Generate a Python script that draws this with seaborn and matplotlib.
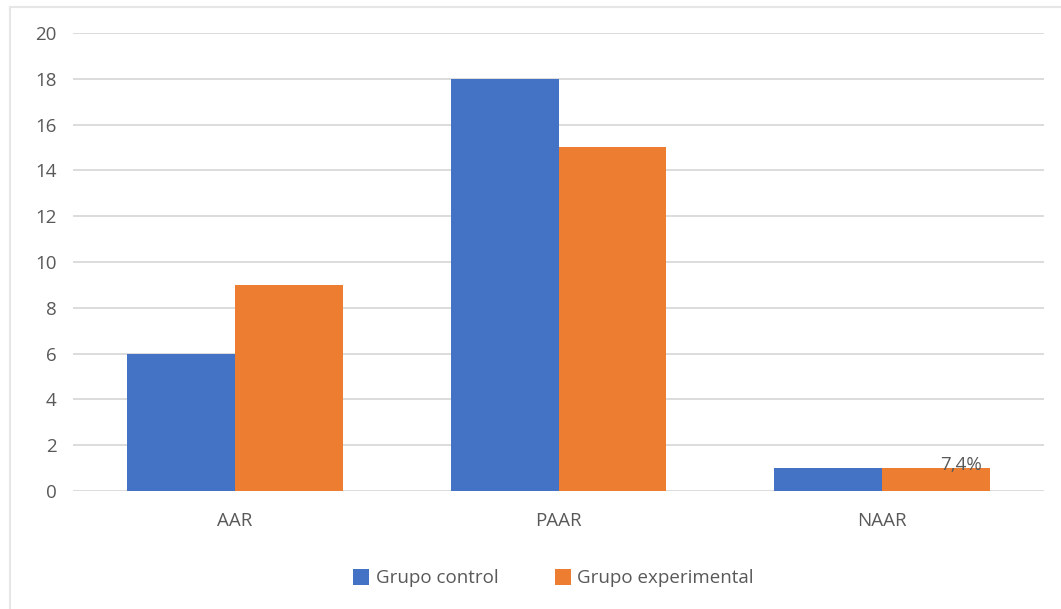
import matplotlib
matplotlib.use("Agg")
import matplotlib.pyplot as plt
import seaborn as sns
import pandas as pd
from matplotlib.lines import Line2D

categories = ["AAR", "PAAR", "NAAR"]
grupo_control = [6, 18, 1]
grupo_experimental = [9, 15, 1]
series_names = ["Grupo control", "Grupo experimental"]
colors = ["#4472C4", "#ED7D31"]
y_ticks = [0, 2, 4, 6, 8, 10, 12, 14, 16, 18, 20]
annotation_text = "7,4%"

df = pd.DataFrame({
    "categoria": categories * 2,
    "valor": grupo_control + grupo_experimental,
    "grupo": [series_names[0]] * len(categories) + [series_names[1]] * len(categories),
})

sns.set_theme(style="white")
plt.rcParams["font.family"] = ["Open Sans", "DejaVu Sans"]

text_color = "#595959"
grid_color = "#D9D9D9"
fs = 13.5

fig = plt.figure(figsize=(10.61, 6.09), dpi=100)
ax = fig.add_axes([0.0688, 0.1938, 0.9152, 0.752])

sns.barplot(data=df, x="categoria", y="valor", hue="grupo", palette=colors,
            width=0.667, gap=0, saturation=1, linewidth=0, edgecolor="none",
            ax=ax, zorder=3, legend=True)

ax.set_ylim(0, 20)
ax.set_yticks(y_ticks)
ax.set_xlim(-0.5, len(categories) - 0.5)
ax.yaxis.grid(True, color=grid_color, linewidth=1.3, zorder=0)
ax.set_axisbelow(True)
for s in ax.spines.values():
    s.set_visible(False)
ax.set_xlabel("")
ax.set_ylabel("")
ax.tick_params(axis="y", length=0, pad=12, labelsize=fs, labelcolor=text_color)
ax.tick_params(axis="x", length=0, pad=15, labelsize=fs, labelcolor=text_color)

# Value label over the last experimental bar
exp_bar = ax.containers[1][2]
ax.annotate(annotation_text,
            xy=(exp_bar.get_x() + exp_bar.get_width() / 2, exp_bar.get_height()),
            xytext=(18, -4), textcoords="offset points",
            ha="center", va="bottom", fontsize=fs, color=text_color, zorder=5)

leg = ax.legend(loc="center", bbox_to_anchor=(0.495, -0.19), ncol=2, frameon=False,
                fontsize=fs, handlelength=0.85, handleheight=1.0, handletextpad=0.35,
                columnspacing=3.0, labelcolor=text_color)

# Chart border (top and left edges)
fig.add_artist(Line2D([10 / 1061, 10 / 1061], [0, 1 - 7 / 609], color="#E6E6E6",
                      linewidth=1.5, transform=fig.transFigure))
fig.add_artist(Line2D([10 / 1061, 1], [1 - 7 / 609, 1 - 7 / 609], color="#E6E6E6",
                      linewidth=1.5, transform=fig.transFigure))

fig.savefig("out.png", dpi=100, facecolor="white")
